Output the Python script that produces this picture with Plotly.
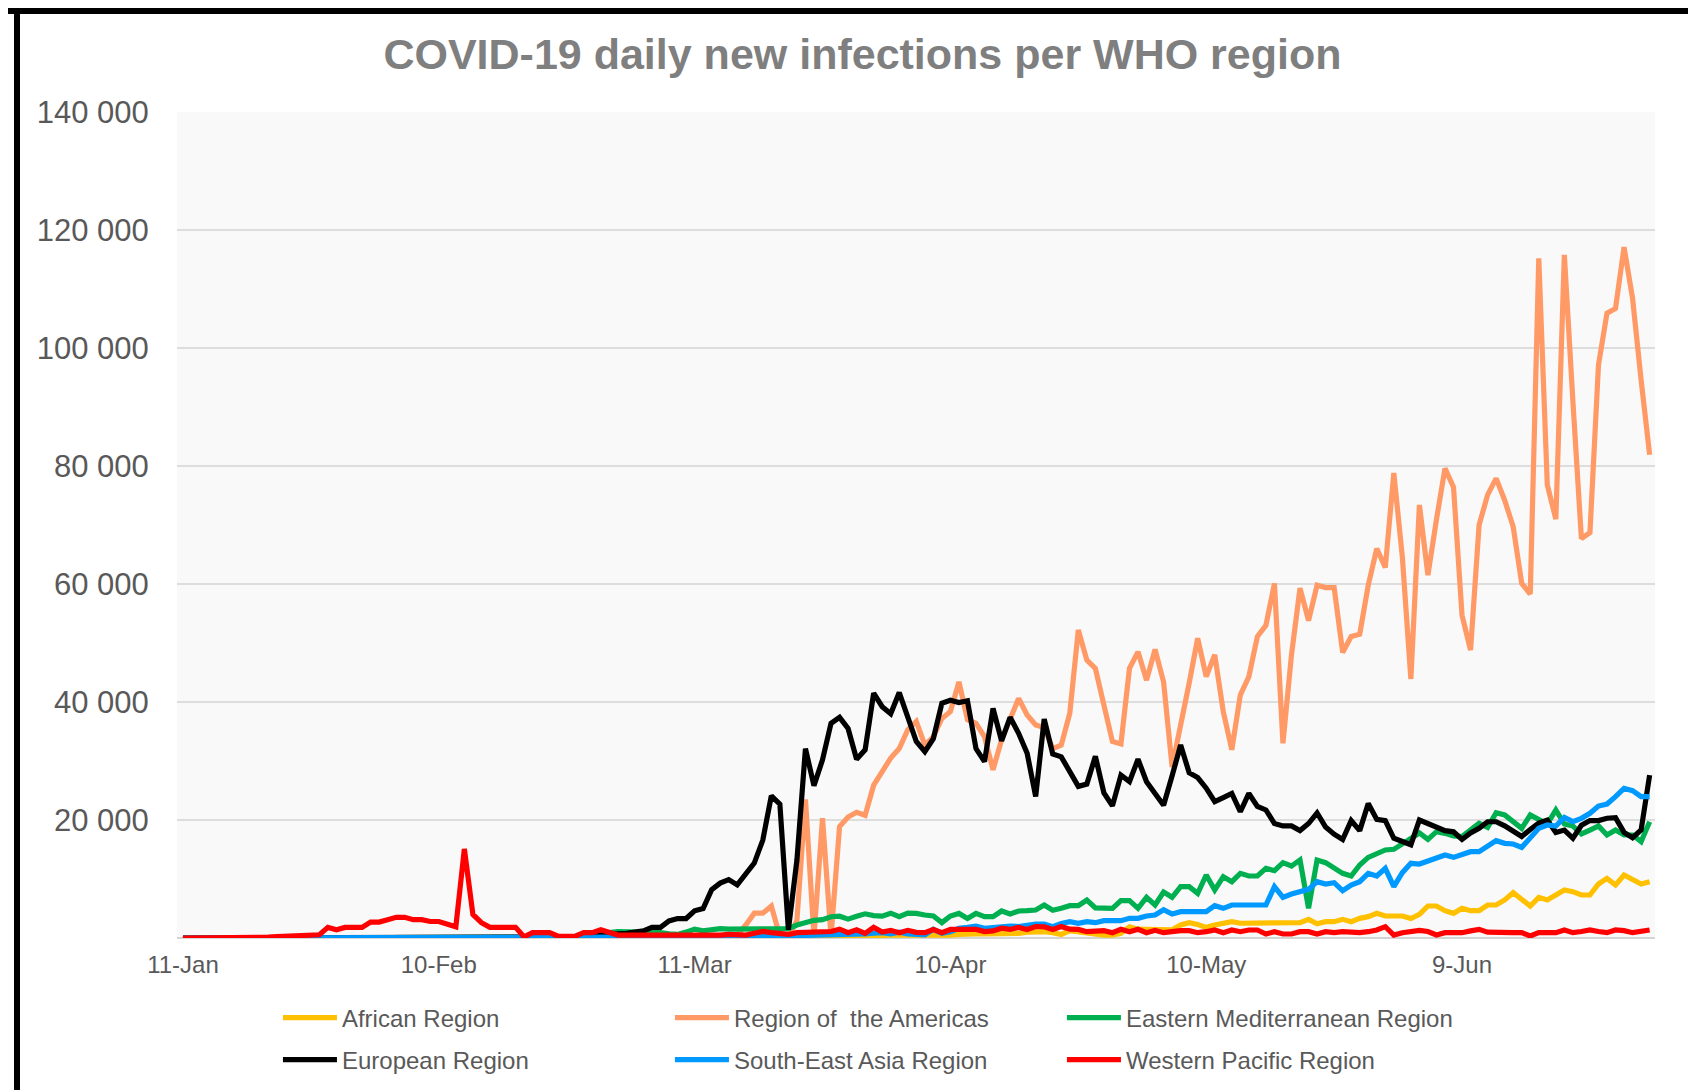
import pandas as pd
import plotly.graph_objects as go

# ---------------- data ----------------
start_date = "2020-01-11"
n_days = 173
dates = pd.date_range(start_date, periods=n_days, freq="D")

x_tick_dates = ["2020-01-11", "2020-02-10", "2020-03-11", "2020-04-10", "2020-05-10", "2020-06-09"]
x_tick_labels = ["11-Jan", "10-Feb", "11-Mar", "10-Apr", "10-May", "9-Jun"]
y_tick_vals = [20000, 40000, 60000, 80000, 100000, 120000, 140000]
y_tick_labels = ["20 000", "40 000", "60 000", "80 000", "100 000", "120 000", "140 000"]

african = (
    [0] * 56
    + [5, 5, 10, 10, 15, 20, 30, 40, 50, 60, 80, 100, 120, 150, 170]
    + [200, 200, 250, 250, 300, 300, 350, 400, 350, 400, 450, 450, 500, 500]
    + [500, 450, 400, 340, 340, 500, 600, 750, 700, 700, 680, 680, 700, 790, 1000,
       1070, 1070, 900, 600, 1240, 1000, 800, 600, 500, 500, 800, 1900, 1500, 1470, 1470]
    + [1600, 1400, 2200, 2600, 2300, 1800, 2200, 2500, 2770, 2500, 2500, 2500, 2500, 2500, 2500,
       2500, 2600, 3160, 2400, 2770, 2770, 3160, 2770, 3330, 3620, 4180, 3730, 3730, 3730, 3300]
    + [4000, 5420, 5420, 4630, 4180, 5030, 4630, 4630, 5590, 5590, 6440, 7680, 6440, 5420,
       6890, 6440, 7290, 8140, 7850, 7290, 7290, 9150, 10110, 8980, 10680, 9830, 9150, 9550]
)

americas = (
    [0] * 40
    + [0, 0, 0, 0, 0, 5, 5, 5, 10, 10, 10, 15, 20, 20, 25, 30]
    + [40, 50, 60, 80, 100, 150, 200, 250, 300]
    + [500, 2200, 4200, 4200, 5400, 300, 100, 3000, 23500, 300, 20300, 300, 18900, 20500,
       21300, 20800, 25900, 28200, 30500, 32100]
    + [35300, 36700, 32700, 34100, 37200, 38400, 43400, 37000, 36400, 34100, 28500, 33600,
       37000, 40600, 37800, 36100, 35700, 32100, 32700, 38100]
    + [52200, 47100, 45700, 39200, 33300, 32900, 45700, 48500, 43700, 48900, 43400, 29000,
       35800, 43200, 50800]
    + [44300, 48000, 38400, 31900, 41200, 44300, 51100, 53000, 60100, 33000, 48000, 59300,
       53800, 59800, 59400, 59400, 48400, 51100, 51500, 59800, 66000, 62800, 78800, 64600, 43900]
    + [73400, 61500, 70900, 79600, 76400, 54700, 48800, 70000, 75100, 77900, 74200, 69700,
       60100, 58300, 115200, 76800, 71000, 115800, 91000, 67700, 68700, 97100, 105900, 106700,
       117100, 108400, 94600, 81900]
)

east_med = (
    [0] * 41
    + [10, 20, 30, 50, 100, 150, 250, 400, 600, 900, 1100, 1100, 1100, 1000, 1100, 900, 700, 600, 1000]
    + [1500, 1200, 1500, 1600, 1500, 1500, 1600, 1600, 1600, 1600, 1600, 1600, 2200, 2700, 3000,
       3100, 3600, 3700, 3200, 3700, 4100, 3800, 3700, 4200, 3600]
    + [4200, 4170, 3900, 3730, 2600, 3730, 4170, 3300, 4170, 3620, 3620, 4580, 4070, 4580, 4630,
       4750, 5590, 4700, 5030, 5480, 5480, 6440, 5100, 5030, 5030, 6330, 6330, 5030, 6890, 5600]
    + [7800, 6900, 8700, 8700, 7570, 10680, 8140, 10400, 9550, 10960, 10510, 10510, 11810, 11410,
       12770, 12200, 13220, 5030, 13220, 12770, 11980, 10960, 10510, 12380, 13670, 14350, 14920,
       15030, 15930, 16720]
    + [17800, 16720, 18020, 17740, 17290, 17180, 18300, 19430, 18760, 21240, 20850, 19720, 18590,
       20850, 20000, 19320, 21700, 19320, 18980, 17630, 18300, 18980, 17460, 18300, 17460, 17460,
       16330, 19720]
)

european = (
    [0] * 30
    + [5, 5, 5, 5, 10, 10, 10, 10, 15, 15, 20]
    + [30, 60, 100, 150, 200, 250, 300, 400, 500, 600, 700, 800, 1000, 1200, 1800, 1800]
    + [2900, 3300, 3300, 4600, 5000, 8200, 9300, 9900, 9000, 10900, 12700, 16600, 24100, 22700,
       1400, 13200, 32100, 25800, 30200, 36400, 37400, 35500, 30300, 31900, 41500, 39200, 38000, 41600]
    + [37500, 33300, 31600, 33800, 39800, 40300, 39900, 40200, 32100, 29900, 38900, 33400, 37400,
       34700, 31300, 24000, 37100, 31200, 30700, 28000, 25700, 26100, 30800, 24600, 22400, 27600,
       26500, 30300, 26500, 24500]
    + [22500, 27500, 32700, 28000, 27200, 25400, 23100, 23800, 24500, 21400, 24500, 22300, 21700,
       19400, 19000, 19000, 18200, 19400, 21200, 18800, 17600, 16700, 19900, 18200, 22800, 20100,
       19900, 16900, 16300, 15800]
    + [20000, 19400, 18800, 18200, 18000, 16700, 17800, 18600, 19700, 19700, 19000, 18000, 17200,
       18400, 19500, 20000, 17900, 18300, 16900, 19100, 19900, 19900, 20300, 20400, 17900, 17000,
       18300, 27600]
)

se_asia = (
    [0] * 46
    + [5, 5, 5, 10, 10, 10, 15, 15, 20, 20]
    + [20, 30, 40, 50, 60, 70, 80, 100, 120, 150, 180, 200, 250, 280, 300, 300, 400, 450, 500,
       550, 600, 450, 650, 600, 700, 800, 900, 700, 1000]
    + [680, 680, 550, 1470, 800, 1070, 1640, 1800, 2000, 1640, 1800, 1950, 2030, 1950, 2200, 2370,
       2370, 1920, 2450, 2770, 2490, 2770, 2600, 2940, 2940, 2940, 3330, 3330, 3730, 3900]
    + [4800, 4070, 4460, 4460, 4460, 4460, 5480, 5030, 5590, 5590, 5590, 5590, 5590, 8700, 6890,
       7460, 7860, 8250, 9550, 9150, 9380, 8030, 8980, 9550, 10960, 10510, 11810, 8700, 11070, 12660]
    + [12540, 13000, 13500, 14070, 13670, 14070, 14630, 14630, 15590, 16500, 16050, 15930, 15370,
       16890, 18590, 19150, 18980, 20450, 19720, 20280, 21130, 22370, 22710, 23950, 25370, 24970,
       23950, 23950]
)

west_pacific = (
    [0, 0, 0, 0, 0, 0, 10, 20, 50, 100, 150, 250, 300]
    + [400, 550, 500, 550, 1800, 1400, 1800, 1800, 1800, 2700, 2700, 3100, 3500, 3500, 3100, 3100,
       2800, 2800, 2400, 1900, 15100, 4000, 2600, 1800, 1800, 1800, 1800, 200, 900, 900, 900, 300,
       300, 300, 900, 900, 1400, 900, 500]
    + [500, 400, 500, 500, 500, 400, 400, 300, 500, 500, 500, 500, 600, 500, 500, 800, 1100, 900,
       700, 600, 900, 900, 900, 900, 1100, 1500, 900, 1400, 800, 1800, 1000, 1300, 900]
    + [1300, 950, 900, 1450, 900, 1450, 1450, 1450, 1450, 1100, 1200, 1650, 1450, 1800, 1450, 1950,
       1900, 1450, 1950, 1500, 1450, 1070, 1200, 1240, 900, 1470, 1070, 1470, 900, 1300, 900, 1100]
    + [1240, 1240, 900, 1070, 1360, 900, 1360, 1070, 1360, 1360, 680, 1070, 680, 680, 1070, 1070,
       680, 1070, 900, 1070, 900, 900, 1070, 1360, 1920, 510, 900, 1070, 1300, 1100, 510, 900, 900,
       900, 1200, 1470, 1000, 900, 900, 900, 900, 340, 900, 900, 900, 1360, 900, 1100, 1360, 1100,
       900, 1360, 1240, 900, 1240, 1360]
)

series_names = ["African Region", "Region of\u00a0 the Americas", "Eastern Mediterranean Region",
                "European Region", "South-East Asia Region", "Western Pacific Region"]
series_values = [african, americas, east_med, european, se_asia, west_pacific]
series_colors = ["#FFC000", "#FF9966", "#00B050", "#000000", "#0099FF", "#FF0000"]
series_legend = ["legend", "legend", "legend", "legend2", "legend2", "legend2"]

# ---------------- figure ----------------
FONT = "Liberation Sans, Arial, sans-serif"
fig = go.Figure()
for name, vals, col, leg in zip(series_names, series_values, series_colors, series_legend):
    fig.add_trace(go.Scatter(
        x=dates, y=vals, mode="lines", name=name,
        line=dict(color=col, width=5.2), legend=leg,
    ))

legend_common = dict(
    orientation="h", xanchor="left", yanchor="middle",
    xref="paper", yref="container",
    itemwidth=54, entrywidth=323,
    font=dict(family=FONT, size=24, color="#595959"),
    bgcolor="rgba(0,0,0,0)", borderwidth=0,
)

fig.update_layout(
    width=1688, height=1082, autosize=False,
    margin=dict(l=169, r=41, t=104, b=152, autoexpand=False),
    paper_bgcolor="white", plot_bgcolor="#f9f9f9",
    font=dict(family=FONT, color="#595959"),
    title=dict(text="<b>COVID-19 daily new infections per WHO region</b>",
               font=dict(family=FONT, size=43, color="#7f7f7f"),
               x=0.5062, xref="container", xanchor="center",
               y=0.9575, yref="container", yanchor="middle"),
    legend=dict(legend_common, x=0.0683, y=1 - 1010 / 1082),
    legend2=dict(legend_common, x=0.0683, y=1 - 1052 / 1082),
    xaxis=dict(
        type="date",
        range=["2020-01-10 07:12", "2020-07-01 15:07"],
        tickvals=x_tick_dates, ticktext=x_tick_labels,
        showgrid=False, zeroline=False, showline=False,
        ticks="outside", ticklen=5, tickcolor="rgba(0,0,0,0)",
        tickfont=dict(family=FONT, size=24, color="#595959"),
    ),
    yaxis=dict(
        range=[0, 140000],
        tickvals=y_tick_vals, ticktext=y_tick_labels,
        showgrid=True, gridcolor="#dddddd", gridwidth=2,
        zeroline=True, zerolinecolor="#d4d4d4", zerolinewidth=2,
        showline=False,
        ticks="outside", ticklen=21, tickcolor="rgba(0,0,0,0)",
        tickfont=dict(family=FONT, size=31, color="#595959"),
    ),
    shapes=[
        dict(type="rect", xref="paper", yref="paper", x0=-0.2, x1=1.2,
             y0=(930 - 6) / 826, y1=1.2, fillcolor="black", line=dict(width=0), layer="above"),
        dict(type="rect", xref="paper", yref="paper", x0=(6 - 169) / 1478, x1=(12 - 169) / 1478,
             y0=-0.3, y1=1.2, fillcolor="black", line=dict(width=0), layer="above"),
    ],
)

fig.write_html("out.html")
